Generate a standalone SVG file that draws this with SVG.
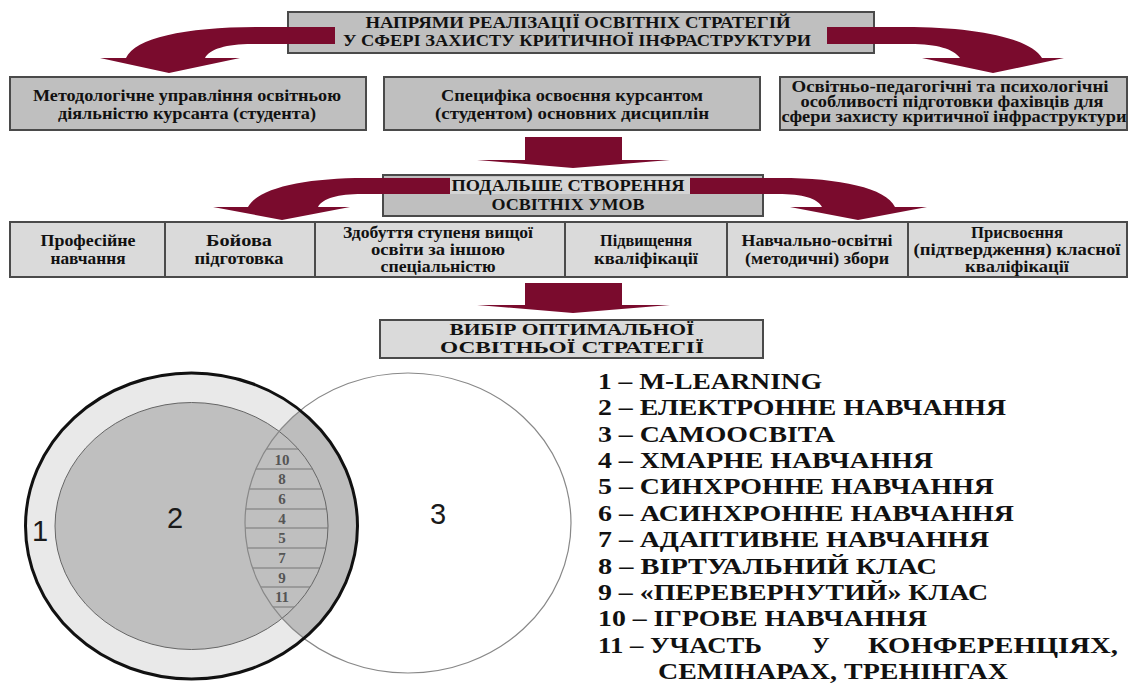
<svg xmlns="http://www.w3.org/2000/svg" width="1130" height="684" viewBox="0 0 1130 684">
<style>
.box{stroke:#4a4a4a;stroke-width:2}
.dk{fill:#bfbfbf}
.lt{fill:#dadada}
.t{font-family:"Liberation Serif","DejaVu Serif","Times New Roman",serif;font-weight:bold;font-size:16px;fill:#111;text-anchor:middle}
.arr{fill:#7a0b2d}
.leg{font-family:"Liberation Serif","DejaVu Serif","Times New Roman",serif;font-weight:bold;font-size:24px;fill:#111}
.num{font-family:"Liberation Serif","DejaVu Serif","Times New Roman",serif;font-weight:bold;font-size:15px;fill:#555;text-anchor:middle}
.big{font-family:"Liberation Sans",Arial,sans-serif;font-size:29px;fill:#1a1a1a;text-anchor:middle}
</style>
<defs>
<clipPath id="c1"><ellipse cx="191.5" cy="526" rx="166" ry="153"/></clipPath>
<clipPath id="c2"><ellipse cx="191.5" cy="526" rx="136.5" ry="123.5"/></clipPath>
<clipPath id="c3"><ellipse cx="408" cy="523" rx="163" ry="150"/></clipPath>
</defs>
<rect width="1130" height="684" fill="#fff"/>

<g id="top" font-family="Liberation Serif, serif">
<rect class="box dk" x="288" y="12" width="586" height="41"/>
<text class="t" x="578" y="28" textLength="425" lengthAdjust="spacingAndGlyphs">НАПРЯМИ РЕАЛІЗАЦІЇ ОСВІТНІХ СТРАТЕГІЙ</text>
<text class="t" x="577" y="46" textLength="468" lengthAdjust="spacingAndGlyphs">У СФЕРІ ЗАХИСТУ КРИТИЧНОЇ ІНФРАСТРУКТУРИ</text>
</g>

<g id="connectors">
<path class="arr" d="M335 27 L258 27 C185 27 135 38 126 58 L100 58 L169 73 L240 58 L205 58 C210 49 226 44 252 44 L335 44 Z"/>
<path class="arr" d="M827 27 L905 27 C975 27 1030 38 1042 58 L1064 58 L993 73 L922 58 L960 58 C953 49 938 44 910 44 L827 44 Z"/>
<path class="arr" d="M525 137 L622 137 L622 160 L670 160 L573 168 L477 160 L525 160 Z"/>
<path class="arr" d="M525 283 L622 283 L622 305 L670 305 L573 313 L477 305 L525 305 Z"/>
</g>

<g id="row1a" font-family="Liberation Serif, serif">
<rect class="box dk" x="10" y="77" width="356" height="53"/>
<text class="t" x="187" y="101" textLength="308" lengthAdjust="spacingAndGlyphs">Методологічне управління освітньою</text>
<text class="t" x="187" y="119" textLength="258" lengthAdjust="spacingAndGlyphs">діяльністю курсанта (студента)</text>
</g>
<g id="row1b" font-family="Liberation Serif, serif">
<rect class="box dk" x="384" y="77" width="376" height="53"/>
<text class="t" x="572" y="101" textLength="262" lengthAdjust="spacingAndGlyphs">Специфіка освоєння курсантом</text>
<text class="t" x="572" y="119" textLength="274" lengthAdjust="spacingAndGlyphs">(студентом) основних дисциплін</text>
</g>
<g id="row1c" font-family="Liberation Serif, serif">
<rect class="box dk" x="780" y="77" width="347" height="53"/>
<text class="t" x="950" y="92" textLength="317" lengthAdjust="spacingAndGlyphs">Освітньо-педагогічні та психологічні</text>
<text class="t" x="952" y="107" textLength="303" lengthAdjust="spacingAndGlyphs">особливості підготовки фахівців для</text>
<text class="t" x="954" y="122" textLength="345" lengthAdjust="spacingAndGlyphs">сфери захисту критичної інфраструктури</text>
</g>

<g id="mid" font-family="Liberation Serif, serif">
<rect class="box dk" x="383" y="175" width="380" height="41"/>
<path class="arr" d="M450 178 L365 178 C305 178 258 188 248 207 L213 207 L282 220 L350 207 L318 207 C323 198 338 194 362 194 L450 194 Z"/>
<path class="arr" d="M690 178 L780 178 C840 178 886 188 895 207 L927 207 L858 220 L790 207 L822 207 C817 198 803 194 778 194 L690 194 Z"/>
<rect x="450" y="177" width="240" height="17" fill="#d4d4d4"/>
<text class="t" x="568" y="191" textLength="233" lengthAdjust="spacingAndGlyphs">ПОДАЛЬШЕ СТВОРЕННЯ</text>
<text class="t" x="568" y="210" textLength="153" lengthAdjust="spacingAndGlyphs">ОСВІТНІХ УМОВ</text>
</g>

<g id="row2" font-family="Liberation Serif, serif">
<rect class="box lt" x="10" y="222" width="155" height="55"/>
<rect class="box lt" x="165" y="222" width="150" height="55"/>
<rect class="box lt" x="315" y="222" width="250" height="55"/>
<rect class="box lt" x="565" y="222" width="162" height="55"/>
<rect class="box lt" x="727" y="222" width="181" height="55"/>
<rect class="box lt" x="908" y="222" width="219" height="55"/>
<text class="t" x="88" y="246" textLength="95" lengthAdjust="spacingAndGlyphs">Професійне</text>
<text class="t" x="88" y="264" textLength="75" lengthAdjust="spacingAndGlyphs">навчання</text>
<text class="t" x="239" y="246" textLength="66" lengthAdjust="spacingAndGlyphs">Бойова</text>
<text class="t" x="239" y="264" textLength="89" lengthAdjust="spacingAndGlyphs">підготовка</text>
<text class="t" x="438" y="238" textLength="190" lengthAdjust="spacingAndGlyphs">Здобуття ступеня вищої</text>
<text class="t" x="438" y="255" textLength="134" lengthAdjust="spacingAndGlyphs">освіти за іншою</text>
<text class="t" x="438" y="272" textLength="115" lengthAdjust="spacingAndGlyphs">спеціальністю</text>
<text class="t" x="646" y="246" textLength="92" lengthAdjust="spacingAndGlyphs">Підвищення</text>
<text class="t" x="646" y="264" textLength="104" lengthAdjust="spacingAndGlyphs">кваліфікації</text>
<text class="t" x="817" y="246" textLength="151" lengthAdjust="spacingAndGlyphs">Навчально-освітні</text>
<text class="t" x="817" y="264" textLength="144" lengthAdjust="spacingAndGlyphs">(методичні) збори</text>
<text class="t" x="1017" y="238" textLength="92" lengthAdjust="spacingAndGlyphs">Присвоєння</text>
<text class="t" x="1017" y="255" textLength="207" lengthAdjust="spacingAndGlyphs">(підтвердження) класної</text>
<text class="t" x="1017" y="272" textLength="104" lengthAdjust="spacingAndGlyphs">кваліфікації</text>
</g>

<g id="choice" font-family="Liberation Serif, serif">
<rect class="box lt" x="380" y="320" width="383" height="38"/>
<text class="t" x="572" y="335" textLength="245" lengthAdjust="spacingAndGlyphs">ВИБІР ОПТИМАЛЬНОЇ</text>
<text class="t" x="572" y="353" textLength="264" lengthAdjust="spacingAndGlyphs">ОСВІТНЬОЇ СТРАТЕГІЇ</text>
</g>

<g id="venn">
<ellipse cx="191.5" cy="526" rx="166" ry="153" fill="#e9e9e9"/>
<g clip-path="url(#c1)"><ellipse cx="408" cy="523" rx="163" ry="150" fill="#bdbdbd"/></g>
<ellipse cx="191.5" cy="526" rx="136.5" ry="123.5" fill="#bfbfbf" stroke="#666" stroke-width="1"/>
<g clip-path="url(#c2)"><g clip-path="url(#c3)" stroke="#777" stroke-width="1.2">
<line x1="230" y1="449" x2="340" y2="449"/>
<line x1="230" y1="469" x2="340" y2="469"/>
<line x1="230" y1="489" x2="340" y2="489"/>
<line x1="230" y1="509" x2="340" y2="509"/>
<line x1="230" y1="528" x2="340" y2="528"/>
<line x1="230" y1="548" x2="340" y2="548"/>
<line x1="230" y1="568" x2="340" y2="568"/>
<line x1="230" y1="587" x2="340" y2="587"/>
<line x1="230" y1="607" x2="340" y2="607"/>
</g></g>
<ellipse cx="408" cy="523" rx="163" ry="150" fill="none" stroke="#888" stroke-width="1.2"/>
<ellipse cx="191.5" cy="526" rx="166" ry="153" fill="none" stroke="#111" stroke-width="3"/>
<g font-family="Liberation Serif, serif">
<text class="num" x="282" y="465">10</text>
<text class="num" x="282" y="484">8</text>
<text class="num" x="282" y="504">6</text>
<text class="num" x="282" y="524">4</text>
<text class="num" x="282" y="543">5</text>
<text class="num" x="282" y="563">7</text>
<text class="num" x="282" y="583">9</text>
<text class="num" x="282" y="602">11</text>
</g>
<text class="big" x="40" y="541">1</text>
<text class="big" x="175" y="528">2</text>
<text class="big" x="438" y="524">3</text>
</g>

<g id="legend" font-family="Liberation Serif, serif">
<text class="leg" x="598" y="389" textLength="224" lengthAdjust="spacingAndGlyphs">1 – M-LEARNING</text>
<text class="leg" x="598" y="415" textLength="408" lengthAdjust="spacingAndGlyphs">2 – ЕЛЕКТРОННЕ НАВЧАННЯ</text>
<text class="leg" x="598" y="442" textLength="237" lengthAdjust="spacingAndGlyphs">3 – САМООСВІТА</text>
<text class="leg" x="598" y="468" textLength="335" lengthAdjust="spacingAndGlyphs">4 – ХМАРНЕ НАВЧАННЯ</text>
<text class="leg" x="598" y="494" textLength="396" lengthAdjust="spacingAndGlyphs">5 – СИНХРОННЕ НАВЧАННЯ</text>
<text class="leg" x="598" y="521" textLength="416" lengthAdjust="spacingAndGlyphs">6 – АСИНХРОННЕ НАВЧАННЯ</text>
<text class="leg" x="598" y="547" textLength="391" lengthAdjust="spacingAndGlyphs">7 – АДАПТИВНЕ НАВЧАННЯ</text>
<text class="leg" x="598" y="574" textLength="339" lengthAdjust="spacingAndGlyphs">8 – ВІРТУАЛЬНИЙ КЛАС</text>
<text class="leg" x="598" y="600" textLength="390" lengthAdjust="spacingAndGlyphs">9 – «ПЕРЕВЕРНУТИЙ» КЛАС</text>
<text class="leg" x="598" y="626" textLength="329" lengthAdjust="spacingAndGlyphs">10 – ІГРОВЕ НАВЧАННЯ</text>
<text class="leg" x="598" y="653" textLength="164" lengthAdjust="spacingAndGlyphs">11 – УЧАСТЬ</text>
<text class="leg" x="812" y="653">У</text>
<text class="leg" x="868" y="653" textLength="250" lengthAdjust="spacingAndGlyphs">КОНФЕРЕНЦІЯХ,</text>
<text class="leg" x="658" y="679" textLength="350" lengthAdjust="spacingAndGlyphs">СЕМІНАРАХ, ТРЕНІНГАХ</text>
</g>
</svg>
